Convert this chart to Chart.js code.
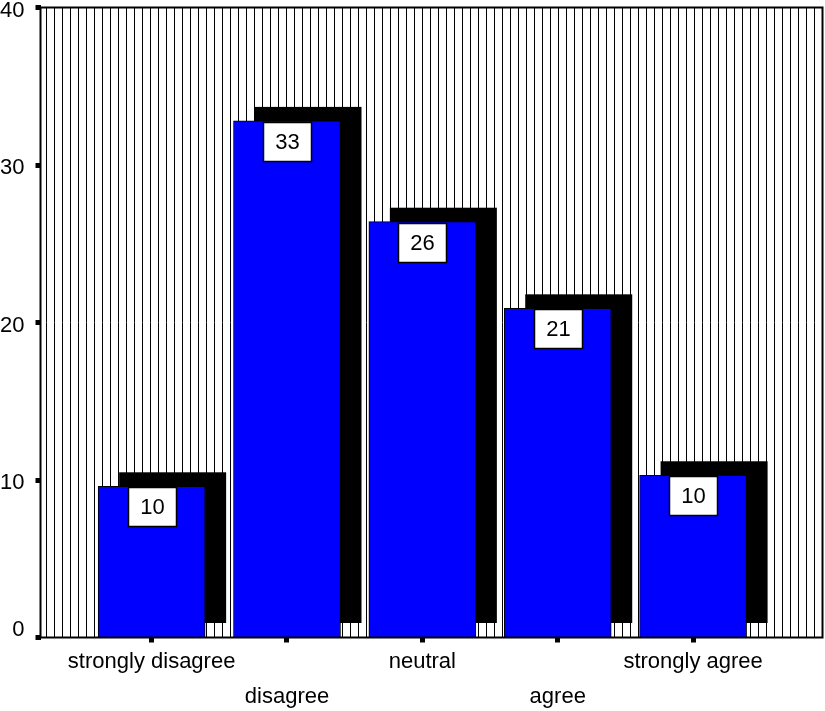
<!DOCTYPE html>
<html>
<head>
<meta charset="utf-8">
<script src="https://cdn.jsdelivr.net/npm/chart.js@4.4.1/dist/chart.umd.min.js"></script>
<style>
  html, body { margin: 0; padding: 0; background: #fff; }
  canvas { display: block; }
</style>
</head>
<body>
<canvas id="chart" width="825" height="711"></canvas>
<script>
// Response categories, left to right
const categories = ['strongly disagree', 'disagree', 'neutral', 'agree', 'strongly agree'];
// Percentage of respondents per category
const percents = [9.6, 32.8, 26.4, 20.9, 10.3];
// Value-axis tick labels
const yTickValues = [0, 10, 20, 30, 40];

const FONT = '"Liberation Sans", Arial, Helvetica, sans-serif';

// White plot area with thin vertical hatching
const hatchBackground = {
  id: 'hatchBackground',
  beforeDraw(chart) {
    const { ctx, chartArea: a } = chart;
    ctx.save();
    ctx.fillStyle = '#fff';
    ctx.fillRect(a.left, a.top, a.right - a.left, a.bottom - a.top);
    ctx.strokeStyle = '#000';
    ctx.lineWidth = 1;
    ctx.beginPath();
    for (let x = Math.floor(a.left) + 6.5; x < a.right - 1; x += 8) {
      ctx.moveTo(x, a.top);
      ctx.lineTo(x, a.bottom);
    }
    ctx.stroke();
    ctx.restore();
  }
};

// Solid black drop shadow behind every bar, offset up and to the right
const barShadow = {
  id: 'barShadow',
  beforeDatasetsDraw(chart) {
    const { ctx } = chart;
    const meta = chart.getDatasetMeta(0);
    ctx.save();
    ctx.fillStyle = '#000';
    meta.data.forEach(bar => {
      const { x, y, base, width } = bar.getProps(['x', 'y', 'base', 'width'], true);
      ctx.fillRect(x - width / 2 + 21, y - 14, width, base - y);
    });
    ctx.restore();
  }
};

// Boxed value label at the top of each bar
const valueBoxes = {
  id: 'valueBoxes',
  afterDatasetsDraw(chart) {
    const { ctx } = chart;
    const meta = chart.getDatasetMeta(0);
    const w = 48, h = 39;
    ctx.save();
    meta.data.forEach((bar, i) => {
      const { x, y } = bar.getProps(['x', 'y'], true);
      const left = Math.round(x - w / 2) + 0.5;
      const top = Math.round(y + 1) + 0.5;
      ctx.fillStyle = '#fff';
      ctx.fillRect(left, top, w, h);
      ctx.strokeStyle = '#000';
      ctx.lineWidth = 1.5;
      ctx.strokeRect(left, top, w, h);
      ctx.fillStyle = '#000';
      ctx.font = '22px ' + FONT;
      ctx.textAlign = 'center';
      ctx.textBaseline = 'middle';
      ctx.fillText(String(Math.round(percents[i])), left + w / 2, top + h / 2 + 1);
    });
    ctx.restore();
  }
};

// Frame around the plot area
const plotFrame = {
  id: 'plotFrame',
  afterDraw(chart) {
    const { ctx, chartArea: a } = chart;
    ctx.save();
    ctx.strokeStyle = '#000';
    ctx.lineWidth = 2;
    ctx.strokeRect(a.left, a.top, a.right - a.left, a.bottom - a.top);
    ctx.restore();
  }
};

new Chart(document.getElementById('chart'), {
  type: 'bar',
  data: {
    datasets: [{
      data: categories.map((c, i) => ({ x: i + 1, y: percents[i] })),
      backgroundColor: '#0000ff',
      borderColor: '#000',
      borderWidth: 1,
      barThickness: 107
    }]
  },
  options: {
    responsive: false,
    animation: false,
    events: [],
    layout: { padding: { top: 7.5, right: 2.5, left: 0, bottom: 0 } },
    plugins: { legend: { display: false }, tooltip: { enabled: false } },
    scales: {
      x: {
        type: 'linear',
        offset: false,
        min: 0.179,
        max: 5.956,
        afterBuildTicks: scale => { scale.ticks = categories.map((c, i) => ({ value: i + 1 })); },
        afterFit: scale => { scale.height = 73.5; scale.paddingLeft = 0; scale.paddingRight = 0; },
        grid: { display: true, offset: false, drawOnChartArea: false, drawTicks: true, tickLength: 5, tickWidth: 5, tickColor: '#000' },
        border: { display: false },
        ticks: {
          autoSkip: false,
          maxRotation: 0,
          padding: 2,
          color: '#000',
          font: { family: FONT, size: 22, lineHeight: 35 / 22 },
          // alternate category names between two rows
          callback: (value, index) => (index % 2 === 1 ? ['', categories[index]] : categories[index])
        }
      },
      y: {
        min: 0,
        max: 40,
        afterBuildTicks: scale => { scale.ticks = yTickValues.map(v => ({ value: v })); },
        afterFit: scale => { scale.width = 40.5; scale.paddingTop = 0; scale.paddingBottom = 0; },
        grid: { display: true, drawOnChartArea: false, drawTicks: true, tickLength: 5, tickWidth: 5, tickColor: '#000' },
        border: { display: false },
        ticks: {
          padding: 11,
          labelOffset: 3,
          color: '#000',
          font: { family: FONT, size: 22, lineHeight: 21 / 22 },
          // lift the zero label above the category axis line
          callback: value => (value === 0 ? ['0', ''] : String(value))
        }
      }
    }
  },
  plugins: [hatchBackground, barShadow, valueBoxes, plotFrame]
});
</script>
</body>
</html>
